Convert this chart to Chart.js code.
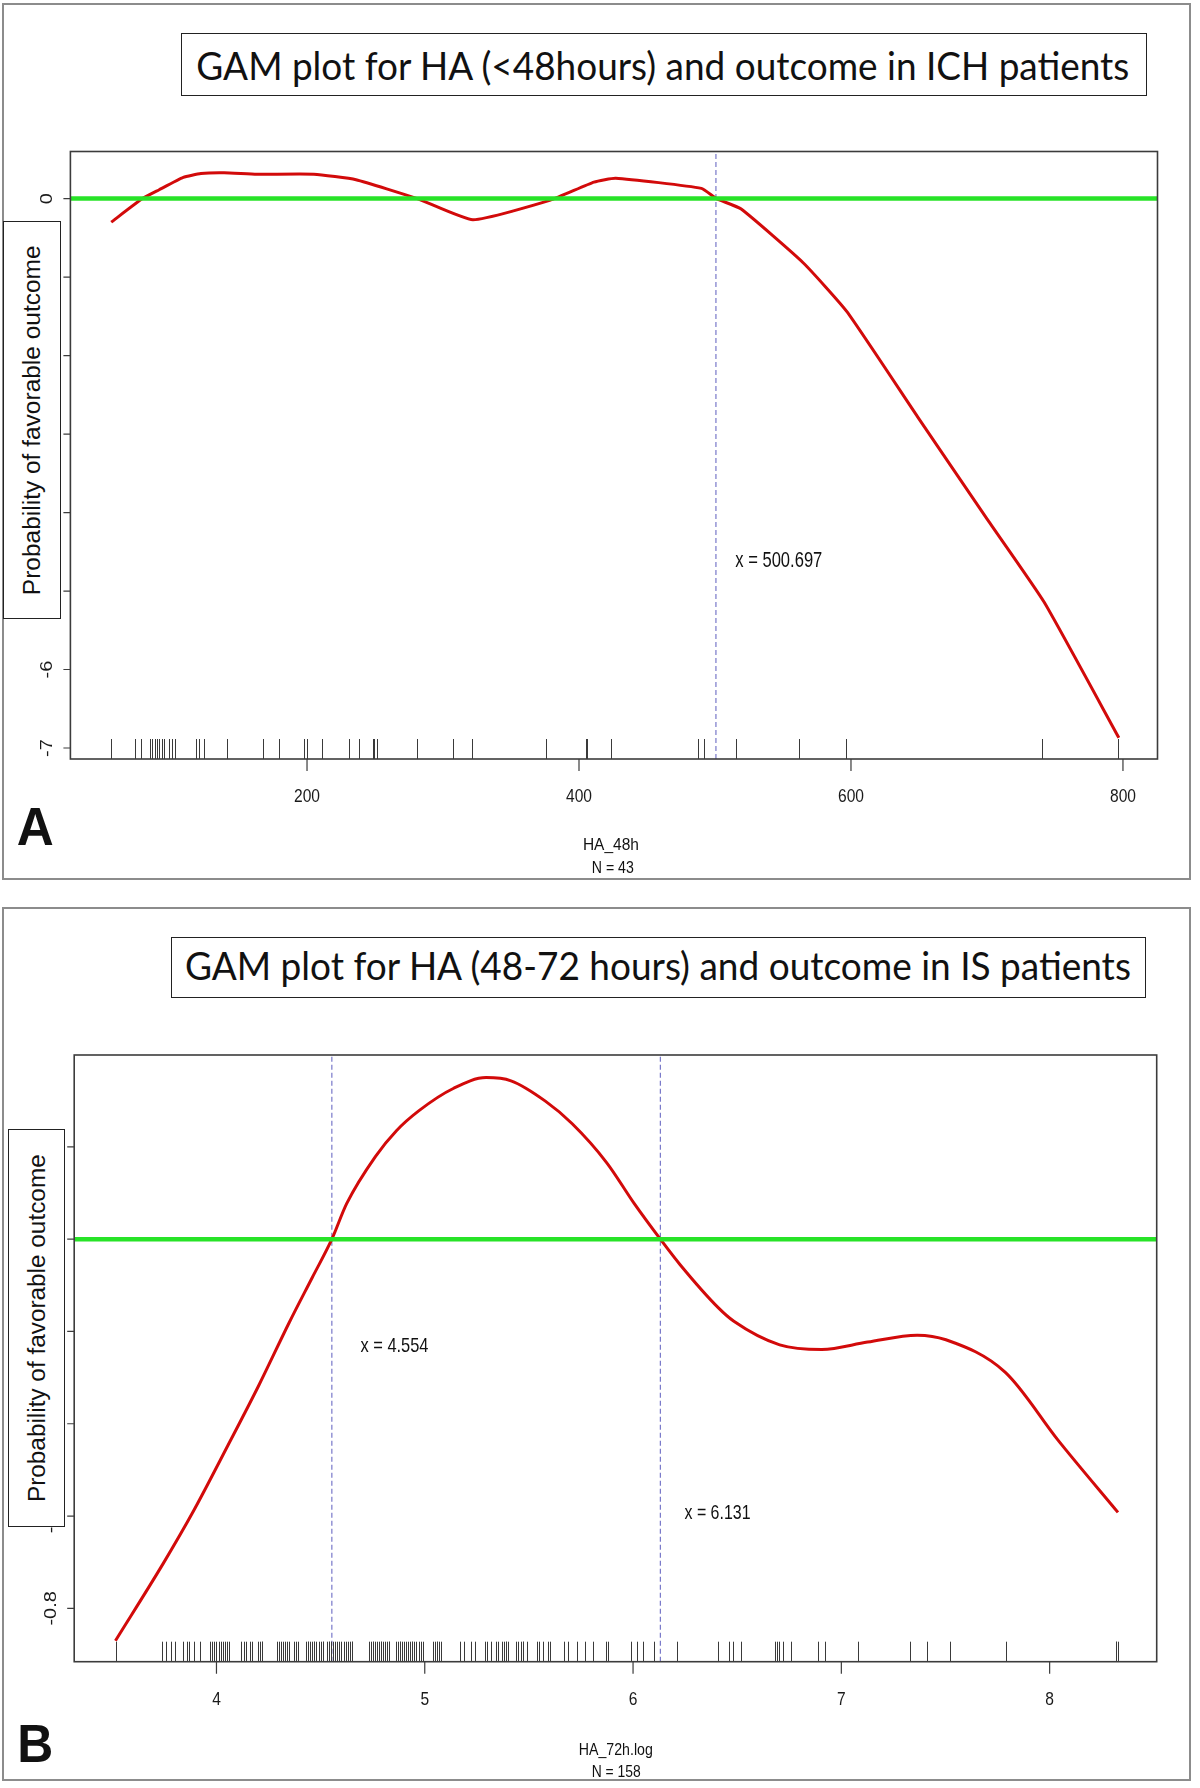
<!DOCTYPE html>
<html><head><meta charset="utf-8">
<script src="https://cdn.jsdelivr.net/npm/chart.js@4.4.1/dist/chart.umd.min.js"></script>
<style>
html,body{margin:0;padding:0;background:#fff;}
body{width:1200px;height:1788px;position:relative;overflow:hidden;font-family:"Liberation Sans",Arial,sans-serif;}
canvas{position:absolute;left:0;z-index:1;}
.frame{position:absolute;border:2px solid #8c8c8c;box-sizing:border-box;z-index:0;}
.tbox{position:absolute;border:1.5px solid #222;box-sizing:border-box;background:#fff;z-index:2;}
.lbl{position:absolute;white-space:nowrap;line-height:1;z-index:3;color:#111;}
</style></head>
<body>
<div class="frame" style="left:2px;top:3px;width:1189px;height:877px"></div>
<div class="frame" style="left:2px;top:907px;width:1189px;height:874px"></div>
<div class="tbox" style="left:181px;top:33px;width:966px;height:63px"></div>
<div class="tbox" style="left:171px;top:937px;width:975px;height:61px"></div>
<div class="tbox" style="left:3px;top:221px;width:58px;height:398px"></div>
<div class="tbox" style="left:8px;top:1129px;width:57px;height:398px"></div>
<canvas id="cA" width="1200" height="895" style="top:0px"></canvas>
<canvas id="cB" width="1200" height="893" style="top:895px"></canvas>
<script>
// ---------- Panel A data ----------
const titleA = "GAM plot for HA (<48hours) and outcome in ICH patients";
const xTitleA = "HA_48h";
const nTextA = "N = 43";
const curveAx = [56, 79, 91, 109, 122, 139, 163, 205, 236, 281, 322, 379, 411, 427, 490, 501, 519, 565, 597, 649, 700, 742, 797];
const curveAy = [-0.30, 0, 0.11, 0.27, 0.32, 0.33, 0.31, 0.31, 0.24, 0, -0.27, -0.02, 0.21, 0.26, 0.13, 0, -0.13, -0.82, -1.44, -2.78, -4.08, -5.14, -6.87];
const rugA = [55.9, 73.3, 77.9, 84.6, 86.3, 88, 89.7, 91.3, 91.3, 93, 94.7, 98.7, 100.4, 102.6, 118.4, 120.6, 124, 140.9, 167.4, 179.7, 197.7, 200, 211.3, 230.9, 238.2, 248.4, 249.5, 249.5, 251.2, 281, 307.5, 321, 375.6, 404.9, 406, 423.5, 487.6, 492.1, 515.7, 561.9, 596.3, 740.3, 796.6];
const cutA = [500.697];
const cutLabelA = ["x = 500.697"];
const xTicksA = [200, 400, 600, 800];
const yTicksA = [0, -1, -2, -3, -4, -5, -6, -7];
const yTickLabelsA = ["0", "-1", "-2", "-3", "-4", "-5", "-6", "-7"];
const xRangeA = [26.0, 825.4];
const yRangeA = [-7.14, 0.6];

// ---------- Panel B data ----------
const titleB = "GAM plot for HA (48-72 hours) and outcome in IS patients";
const xTitleB = "HA_72h.log";
const nTextB = "N = 158";
const curveBx = [3.515, 3.744, 3.891, 4.056, 4.203, 4.350, 4.460, 4.554, 4.625, 4.763, 4.864, 4.974, 5.139, 5.295, 5.414, 5.579, 5.708, 5.873, 6.006, 6.131, 6.227, 6.410, 6.484, 6.704, 6.906, 7.126, 7.364, 7.502, 7.786, 8.043, 8.328];
const curveBy = [-0.870, -0.703, -0.588, -0.446, -0.317, -0.180, -0.083, 0, 0.077, 0.179, 0.235, 0.279, 0.327, 0.350, 0.343, 0.299, 0.250, 0.166, 0.077, 0, -0.056, -0.149, -0.178, -0.229, -0.239, -0.223, -0.208, -0.218, -0.288, -0.437, -0.592];
const rugB = [3.52, 3.74, 3.76, 3.78, 3.80, 3.84, 3.86, 3.87, 3.89, 3.92, 3.97, 3.98, 3.99, 4.00, 4.01, 4.02, 4.03, 4.04, 4.05, 4.06,
  4.12, 4.13, 4.14, 4.16, 4.17, 4.20, 4.21, 4.22, 4.22, 4.29, 4.30, 4.31, 4.32, 4.33, 4.34, 4.35, 4.37, 4.38, 4.39,
  4.43, 4.44, 4.44, 4.45, 4.46, 4.47, 4.47, 4.48, 4.49, 4.50, 4.51, 4.51, 4.53, 4.54, 4.54, 4.55, 4.56, 4.57, 4.58, 4.59, 4.60, 4.61, 4.62, 4.63, 4.64, 4.65, 4.65,
  4.73, 4.74, 4.75, 4.75, 4.76, 4.77, 4.78, 4.79, 4.79, 4.80, 4.81, 4.82, 4.83, 4.83,
  4.86, 4.87, 4.88, 4.88, 4.89, 4.90, 4.91, 4.92, 4.93, 4.94, 4.94, 4.95, 4.96, 4.97, 4.98, 4.99,
  5.04, 5.05, 5.06, 5.06, 5.07, 5.08, 5.17, 5.19, 5.22, 5.24, 5.29, 5.30, 5.32, 5.34, 5.35, 5.37, 5.38, 5.39, 5.39, 5.40,
  5.44, 5.45, 5.46, 5.47, 5.47, 5.49, 5.54, 5.55, 5.57, 5.59, 5.60, 5.67, 5.69, 5.73, 5.77, 5.81, 5.87, 5.88,
  5.99, 6.02, 6.05, 6.10, 6.21, 6.41, 6.46, 6.48, 6.52, 6.68, 6.69, 6.70, 6.72, 6.76, 6.89, 6.92, 7.08, 7.33, 7.41, 7.52, 7.79, 8.32, 8.32, 8.33];
const cutB = [4.554, 6.131];
const cutLabelB = ["x = 4.554", "x = 6.131"];
const xTicksB = [4, 5, 6, 7, 8];
const yTicksB = [0.2, 0, -0.2, -0.4, -0.6, -0.8];
const yTickLabelsB = ["0.2", "0.0", "-0.2", "-0.4", "-0.6", "-0.8"];
const xRangeB = [3.317, 8.514];
const yRangeB = [-0.9155, 0.399];

const yAxisTitle = "Probability of favorable outcome";

// ---------- styles ----------
const RED = '#d20a0a', GREEN = '#27e327', DASH = '#6b6bc4', BOXC = '#3c3c3c', TXT = '#1a1a1a';
const SQX = 0.82; // horizontal squeeze of the original picture

function drawText(ctx, text, x, y, px, rot) {
  ctx.save();
  ctx.translate(x, y);
  ctx.scale(SQX, 1);
  if (rot) ctx.rotate(rot);
  ctx.font = px + 'px "Liberation Sans", Arial, sans-serif';
  ctx.textAlign = 'center';
  ctx.textBaseline = 'middle';
  ctx.fillStyle = TXT;
  ctx.fillText(text, 0, 0);
  ctx.restore();
}

const axesPlugin = {
  id: 'rAxes',
  afterDatasetsDraw(chart, args, o) {
    const ctx = chart.ctx, a = chart.chartArea;
    const xs = chart.scales.x, ys = chart.scales.y;
    ctx.save();
    // rug
    ctx.strokeStyle = '#3a3a3a'; ctx.lineWidth = 1;
    ctx.beginPath();
    o.rug.forEach(v => { const px = Math.round(xs.getPixelForValue(v)) + 0.5; ctx.moveTo(px, a.bottom); ctx.lineTo(px, a.bottom - 20); });
    ctx.stroke();
    // box
    ctx.strokeStyle = BOXC; ctx.lineWidth = 1.6;
    ctx.strokeRect(a.left, a.top, a.right - a.left, a.bottom - a.top);
    // ticks
    ctx.lineWidth = 1.2;
    ctx.beginPath();
    o.xTicks.forEach(v => { const px = xs.getPixelForValue(v); ctx.moveTo(px, a.bottom); ctx.lineTo(px, a.bottom + 12); });
    o.yTicks.forEach(v => { const py = ys.getPixelForValue(v); ctx.moveTo(a.left, py); ctx.lineTo(a.left - 7, py); });
    ctx.stroke();
    o.xTicks.forEach(v => drawText(ctx, String(v), xs.getPixelForValue(v), a.bottom + 38, 19, 0));
    o.yTicks.forEach((v, i) => drawText(ctx, o.yLabels[i], a.left - 23, ys.getPixelForValue(v), 20, -Math.PI / 2));
    ctx.restore();
  }
};

function pts(xa, ya) { return xa.map((x, i) => ({ x: x, y: ya[i] })); }

function makeChart(id, p) {
  const red = { data: pts(p.cx, p.cy), borderColor: RED, borderWidth: 3, pointRadius: 0, order: 1, clip: 0 };
  if (p.smooth) red.cubicInterpolationMode = 'monotone'; else red.tension = p.tension;
  const ds = [
    { data: [{ x: p.xr[0], y: 0 }, { x: p.xr[1], y: 0 }], borderColor: GREEN, borderWidth: 4.5, pointRadius: 0, order: 0, clip: 0 },
    red
  ];
  p.cuts.forEach(c => ds.push({ data: [{ x: c, y: p.yr[0] }, { x: c, y: p.yr[1] }], borderColor: DASH, borderWidth: 1.1, borderDash: [5, 3], pointRadius: 0, order: 2, clip: 0 }));
  return new Chart(document.getElementById(id), {
    type: 'line',
    data: { datasets: ds },
    options: {
      responsive: false, animation: false, devicePixelRatio: 1,
      layout: { padding: p.pad },
      plugins: { legend: { display: false }, tooltip: { enabled: false }, title: { display: false }, rAxes: p.axes },
      scales: {
        x: { type: 'linear', min: p.xr[0], max: p.xr[1], display: false },
        y: { type: 'linear', min: p.yr[0], max: p.yr[1], display: false }
      }
    },
    plugins: [axesPlugin]
  });
}

const chartA = makeChart('cA', {
  xr: xRangeA, yr: yRangeA, cx: curveAx, cy: curveAy, cuts: cutA, smooth: false, tension: 0.15,
  pad: { left: 70.4, top: 151.5, right: 42.5, bottom: 136 },
  axes: { rug: rugA, xTicks: xTicksA, yTicks: yTicksA, yLabels: yTickLabelsA }
});
const chartB = makeChart('cB', {
  xr: xRangeB, yr: yRangeB, cx: curveBx, cy: curveBy, cuts: cutB, smooth: true,
  pad: { left: 74.2, top: 160, right: 43.3, bottom: 126.3 },
  axes: { rug: rugB, xTicks: xTicksB, yTicks: yTicksB, yLabels: yTickLabelsB }
});

// ---------- HTML text ----------
function addLabel(text, cx, cy, px, family, weight, targetW, rotLen, rotSq) {
  const el = document.createElement('div');
  el.className = 'lbl';
  el.textContent = text;
  el.style.fontFamily = family;
  el.style.fontWeight = weight;
  el.style.fontSize = px + 'px';
  document.body.appendChild(el);
  let r = el.getBoundingClientRect();
  if (rotLen) {
    px = px * rotLen / r.width;
    el.style.fontSize = px + 'px';
    r = el.getBoundingClientRect();
  }
  el.style.left = (cx - r.width / 2) + 'px';
  el.style.top = (cy - r.height / 2) + 'px';
  if (rotLen) el.style.transform = 'scaleX(' + rotSq + ') rotate(-90deg)';
  else el.style.transform = 'scaleX(' + (targetW / r.width) + ')';
  return el;
}
const SANS = '"Liberation Sans", Arial, sans-serif';
const CAL = 'Lato, "Open Sans", sans-serif';
addLabel(titleA, 662.5, 64.5, 38, CAL, 400, 933);
addLabel(titleB, 657.7, 965, 38, CAL, 400, 946);
addLabel(yAxisTitle, 33, 420, 24, SANS, 400, 0, 350, 0.95);
addLabel(yAxisTitle, 38, 1328, 24, SANS, 400, 0, 348, 0.95);
(function () {
  const ya = chartA.scales.y, xa = chartA.scales.x;
  addLabel(cutLabelA[0], xa.getPixelForValue(cutA[0]) + 63, ya.getPixelForValue(-4.6), 22, SANS, 400, 87);
  const yb = chartB.scales.y, xb = chartB.scales.x;
  addLabel(cutLabelB[0], xb.getPixelForValue(cutB[0]) + 63, 895 + yb.getPixelForValue(-0.228), 21, SANS, 400, 68);
  addLabel(cutLabelB[1], xb.getPixelForValue(cutB[1]) + 57, 895 + yb.getPixelForValue(-0.59), 21, SANS, 400, 66);
})();
addLabel(xTitleA, 611, 845, 16, SANS, 400, 56);
addLabel(nTextA, 613, 868, 16, SANS, 400, 42);
addLabel(xTitleB, 616, 1750, 16, SANS, 400, 74);
addLabel(nTextB, 616.5, 1772, 16, SANS, 400, 49);
addLabel("A", 35.5, 826, 53, SANS, 700, 37);
addLabel("B", 35, 1743.5, 53, SANS, 700, 36);
</script>
</body></html>
